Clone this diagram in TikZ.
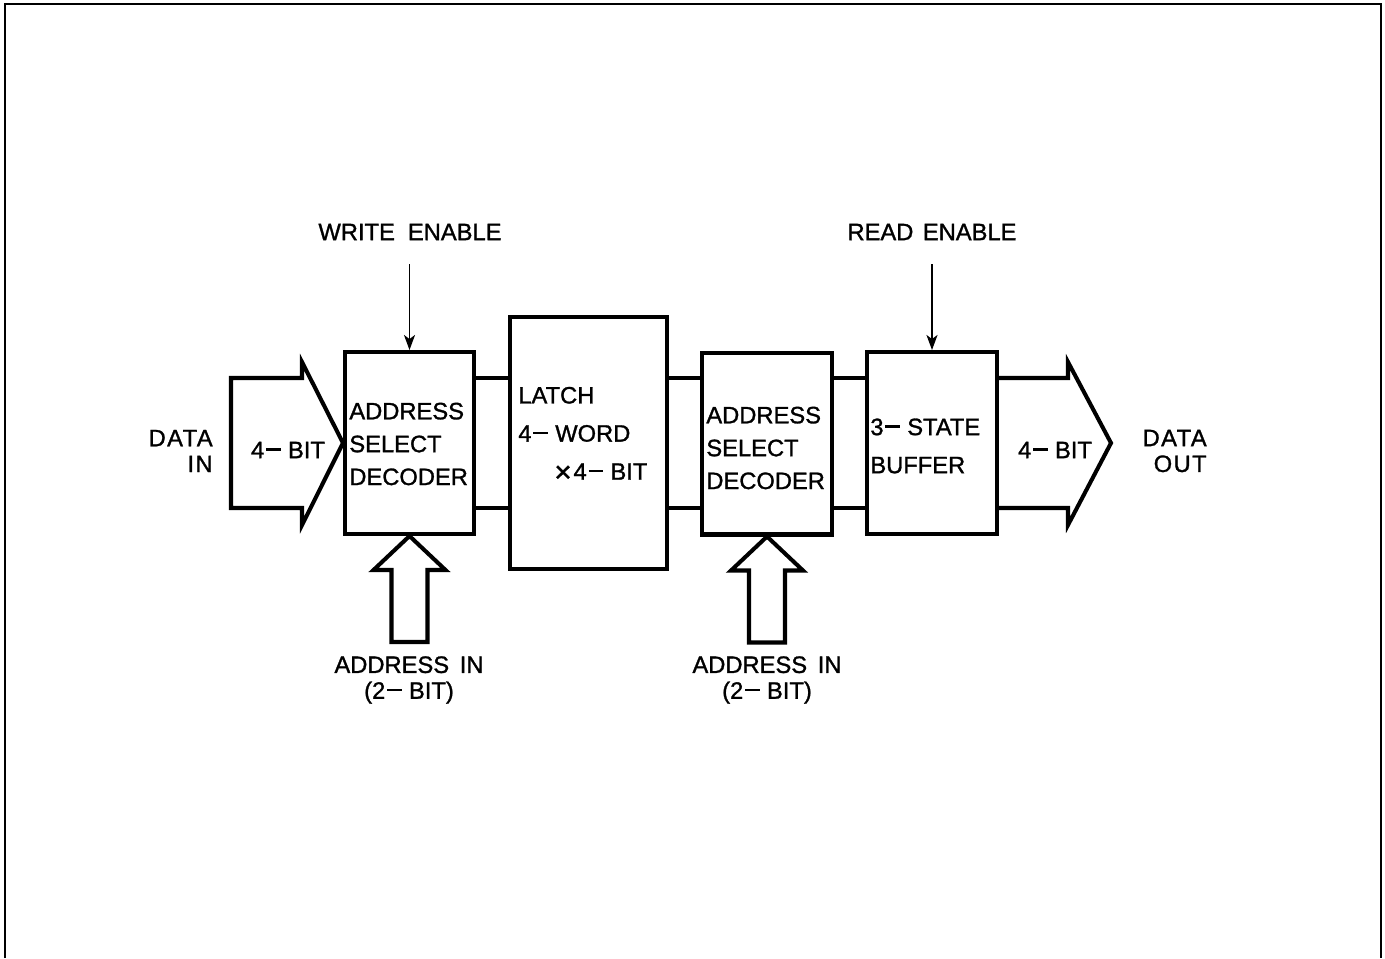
\documentclass[tikz,border=0pt]{standalone}
\usepackage{fontspec}
\setmainfont{Liberation Sans}[FakeBold=1.2]
\usetikzlibrary{arrows.meta}
\newcommand{\dsh}{\hspace{0.08em}\rule[0.32em]{0.62em}{0.1em}\hspace{0.3em}}
\newcommand{\tms}{\raisebox{-0.1em}{\scalebox{1.25}{×}}\hspace{0.08em}}
\begin{document}
\begin{tikzpicture}[x=0.02cm,y=-0.02cm,
  box/.style={draw,line width=2.3pt,inner sep=0pt},
  bus/.style={line width=2.3pt},
  hollow/.style={draw,line width=2.3pt,line join=miter},
  sig/.style={line width=1.1pt,-{Stealth[length=0.3cm,width=0.22cm,inset=0.08cm]}},
  txt/.style={inner sep=0pt,font=\fontsize{13.5}{18.7}\selectfont,align=left},
  txtb/.style={inner sep=0pt,font=\fontsize{13.5}{21.7}\selectfont,align=left},
  txts/.style={inner sep=0pt,font=\fontsize{13.5}{14.7}\selectfont},
  wide/.style={font=\fontsize{13.5}{14.7}\selectfont\addfontfeature{LetterSpace=6}}]
\useasboundingbox (0,0) rectangle (1385,958);
% frame (no bottom edge)
\draw[line width=1.6pt] (5,958) -- (5,4) -- (1381,4) -- (1381,958);

% blocks
\node[box,minimum width=2.58cm,minimum height=3.64cm] (b1) at (409.5,443) {};
\node[box,minimum width=3.14cm,minimum height=5.04cm] (latch) at (588.5,443) {};
\node[box,minimum width=2.6cm,minimum height=3.64cm] (b2) at (767,443.5) {};
\node[box,minimum width=2.6cm,minimum height=3.64cm] (buf) at (932,443) {};

% bus lines
\coordinate (bt) at (0,378);
\coordinate (bb) at (0,508);
\foreach \a/\b in {b1/latch,latch/b2,b2/buf}{
  \draw[bus] (\a.east |- bt) -- (\b.west |- bt);
  \draw[bus] (\a.east |- bb) -- (\b.west |- bb);
}

% data in hollow arrow
\draw[hollow] (231,378) -- (302,378) -- (302,362) -- (b1.west) -- (302,525)
  -- (302,508) -- (231,508) -- cycle;
% data out hollow arrow
\draw[hollow] (buf.east |- bt) -- (1068,378) -- (1068,362) -- (1111,443)
  -- (1068,525) -- (1068,508) -- (buf.east |- bb);

% address hollow arrows
\draw[hollow] (b1.south) -- ++(-36,34) -- ++(18,0) -- ++(0,72) -- ++(36,0)
  -- ++(0,-72) -- ++(18,0) -- cycle;
\draw[hollow] (b2.south) -- ++(-36,34) -- ++(18,0) -- ++(0,72) -- ++(36,0)
  -- ++(0,-72) -- ++(18,0) -- cycle;

% enable signals
\coordinate (we) at (409.5,264);
\coordinate (re) at (932,264);
\draw[sig] (we) -- (b1.north);
\draw[sig] (re) -- (buf.north);

% labels
\node[txts] (wel) at (410,232) {WRITE\hspace{0.55em}ENABLE};
\node[txts] (rel) at (932,232) {READ\hspace{0.4em}ENABLE};
\node[txts,wide,align=right,anchor=east] (din) at (213,451) {DATA\\IN};
\node[txts,wide,align=right,anchor=east] (dout) at (1207,451) {DATA\\OUT};
\node[txts] (inbit) at (288,450) {4\dsh BIT};
\node[txts] (outbit) at (1055,450) {4\dsh BIT};
\node[txt,anchor=west] (t1) at (349,444) {ADDRESS\\SELECT\\DECODER};
\node[txtb,anchor=west] (tl) at (518,434.5) {LATCH\\4\dsh WORD\\\hspace*{0.72cm}\tms 4\dsh BIT};
\node[txt,anchor=west] (t2) at (706,448) {ADDRESS\\SELECT\\DECODER};
\node[txtb,anchor=west] (tb) at (870,446) {3\dsh STATE\\BUFFER};
\node[txts,align=center] (a1) at (409,680) {ADDRESS\hspace{0.45em}IN\\(2\dsh BIT)};
\node[txts,align=center] (a2) at (767,680) {ADDRESS\hspace{0.45em}IN\\(2\dsh BIT)};
\end{tikzpicture}
\end{document}
